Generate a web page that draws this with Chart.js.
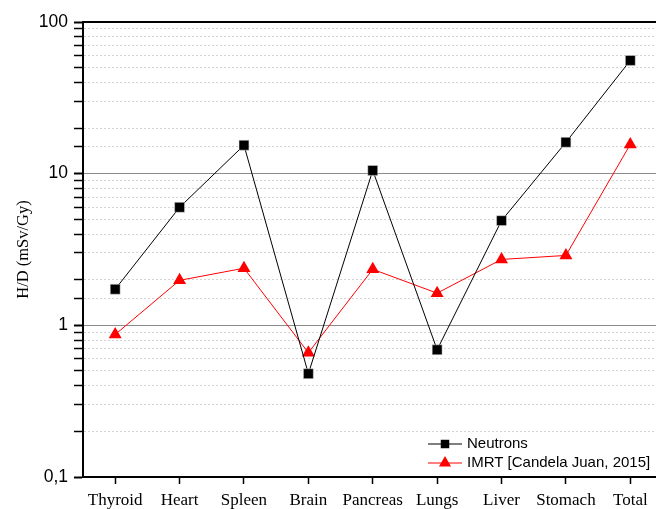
<!DOCTYPE html>
<html lang="en">
<head>
    <meta charset="UTF-8">
    <title>H/D per organ</title>
    <script src="https://cdn.jsdelivr.net/npm/chart.js"></script>
    <style>
        html, body {
            margin: 0;
            padding: 0;
            background: #fff;
            overflow: hidden;
        }
        #wrap {
            width: 670px;
            height: 509px;
        }
    </style>
</head>
<body>
    <div id="wrap">
        <canvas id="myChart" width="670" height="509"></canvas>
    </div>

    <script>
        const organs = ['Thyroid', 'Heart', 'Spleen', 'Brain', 'Pancreas', 'Lungs', 'Liver', 'Stomach', 'Total'];
        const neutrons = [1.73, 6.0, 15.4, 0.48, 10.5, 0.69, 4.9, 16.1, 55.8];
        const imrt = [0.87, 1.98, 2.38, 0.66, 2.34, 1.63, 2.72, 2.89, 15.6];
        const yTickLabels = { 0.1: '0,1', 1: '1', 10: '10', 100: '100' };

        const isDecade = v => Math.abs(Math.log10(v) - Math.round(Math.log10(v))) < 1e-6;

        // top frame line + legend inside the plot (bottom right)
        const extras = {
            id: 'extras',
            afterDraw(chart) {
                const c = chart.ctx;
                const a = chart.chartArea;
                c.save();
                c.strokeStyle = '#000';
                c.lineWidth = 2;
                c.beginPath();
                c.moveTo(a.left, a.top);
                c.lineTo(a.right, a.top);
                c.stroke();

                const rows = [
                    { text: 'Neutrons', color: '#000', style: 'rect', r: 6 },
                    { text: 'IMRT [Candela Juan, 2015]', color: '#ff0000', style: 'triangle', r: 7 }
                ];
                const x0 = a.left + 345;
                let y = a.bottom - 33;
                c.font = '15px "Liberation Sans", Arial, sans-serif';
                c.textBaseline = 'middle';
                rows.forEach(row => {
                    c.strokeStyle = row.color;
                    c.lineWidth = 1;
                    c.beginPath();
                    c.moveTo(x0, y);
                    c.lineTo(x0 + 34, y);
                    c.stroke();
                    c.fillStyle = row.color;
                    Chart.helpers.drawPoint(c, { pointStyle: row.style, radius: row.r, borderWidth: 0 }, x0 + 17, y);
                    c.fillStyle = '#000';
                    c.fillText(row.text, x0 + 39, y);
                    y += 19;
                });
                c.restore();
            }
        };

        const ctx = document.getElementById('myChart').getContext('2d');
        const myChart = new Chart(ctx, {
            type: 'line',
            data: {
                labels: organs,
                datasets: [{
                    label: 'Neutrons',
                    data: neutrons,
                    borderColor: '#000',
                    backgroundColor: '#000',
                    borderWidth: 1,
                    pointStyle: 'rect',
                    pointRadius: 7,
                    pointBorderColor: '#ddd',
                    pointBorderWidth: 0.5,
                    tension: 0
                }, {
                    label: 'IMRT [Candela Juan, 2015]',
                    data: imrt,
                    borderColor: '#ff0000',
                    backgroundColor: '#ff0000',
                    borderWidth: 1,
                    pointStyle: 'triangle',
                    pointRadius: 7.5,
                    pointBorderWidth: 0,
                    tension: 0
                }]
            },
            options: {
                responsive: false,
                animation: false,
                layout: { padding: { top: 22, right: 4, left: 0, bottom: 0 } },
                plugins: {
                    legend: { display: false },
                    tooltip: { enabled: false }
                },
                scales: {
                    x: {
                        type: 'category',
                        offset: true,
                        grid: {
                            drawOnChartArea: false,
                            tickLength: 7,
                            tickColor: '#000',
                            tickWidth: 1.5
                        },
                        border: { color: '#000', width: 2 },
                        ticks: {
                            color: '#000',
                            padding: 6,
                            maxRotation: 0,
                            autoSkip: false,
                            font: { family: '"Liberation Serif", "Times New Roman", serif', size: 17 }
                        },
                        afterFit: s => { s.height = 32; }
                    },
                    y: {
                        type: 'logarithmic',
                        min: 0.1,
                        max: 100,
                        position: 'left',
                        title: {
                            display: true,
                            text: 'H/D (mSv/Gy)',
                            color: '#000',
                            padding: { top: 14, bottom: 0 },
                            font: { family: '"Liberation Serif", "Times New Roman", serif', size: 16.5 }
                        },
                        grid: {
                            color: c => (c.tick && isDecade(c.tick.value)) ? 'rgba(0,0,0,0)' : '#d4d4d4',
                            lineWidth: 1,
                            tickLength: 9,
                            tickColor: '#000',
                            tickWidth: c => (c.tick && isDecade(c.tick.value)) ? 2 : 1.5
                        },
                        border: { color: '#000', width: 2, dash: [2, 2] },
                        ticks: {
                            color: '#000',
                            padding: 6,
                            autoSkip: false,
                            font: { family: '"Liberation Sans", Arial, sans-serif', size: 17.5 },
                            callback: v => isDecade(v) ? yTickLabels[Math.pow(10, Math.round(Math.log10(v)))] : ''
                        },
                        afterFit: s => { s.width = 83; }
                    },
                    y2: {
                        type: 'logarithmic',
                        min: 0.1,
                        max: 100,
                        position: 'right',
                        afterBuildTicks: s => {
                            s.ticks = s.ticks.filter(t => isDecade(t.value) && t.value > 0.5 && t.value < 50);
                        },
                        grid: { color: '#8c8c8c', lineWidth: 1, drawTicks: false },
                        border: { display: false },
                        ticks: { display: false },
                        afterFit: s => { s.width = 0; }
                    }
                }
            },
            plugins: [extras]
        });
    </script>
</body>
</html>
